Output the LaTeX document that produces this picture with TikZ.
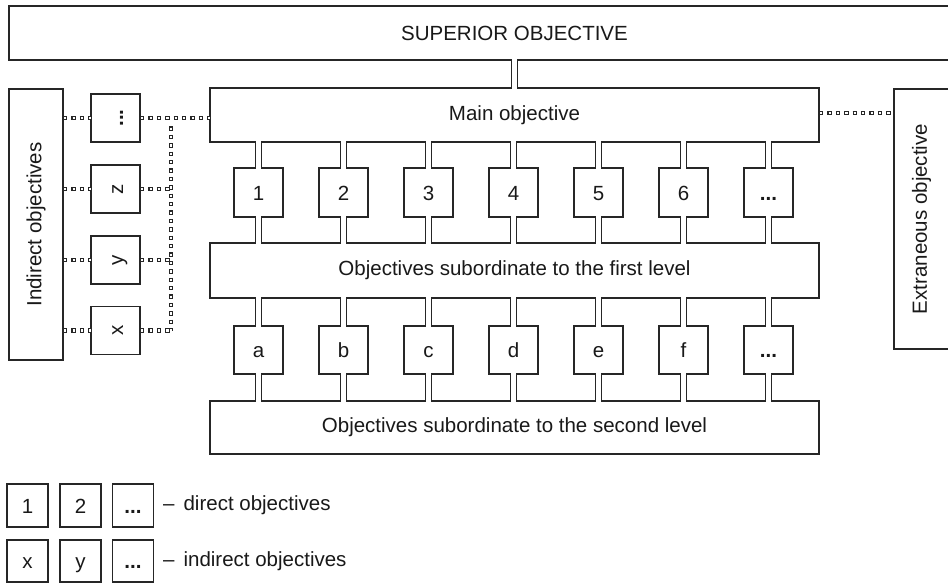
\documentclass[tikz,border=0pt]{standalone}
\usepackage{fontspec}
\setmainfont{Liberation Sans}
\usetikzlibrary{calc}
\newcommand\dd{\textbf{...}}
\tikzset{
  box/.style={draw=black!85, line width=1.1pt},
  nb/.style={box, inner sep=0pt, outer sep=0pt, fill=white},
  lbl/.style={text height=15pt, text depth=0pt},
  sq/.style={draw=black!85, line width=4.4pt, dash pattern=on 4.4pt off 4pt,
    postaction={draw=white, line width=2.2pt, dash pattern=on 2.2pt off 6.2pt, dash phase=7.3pt}},
}
% neck: #1 upper node, #2 lower node, #3 node giving x
\newcommand\neck[3]{%
  \fill[white] ($(#3.center |- #1.south)+(-2.2,-1.2)$) rectangle ($(#3.center |- #2.north)+(2.2,1.2)$);
  \draw[box] ($(#3.center |- #1.south)+(-2.75,0)$) -- ($(#3.center |- #2.north)+(-2.75,0)$);
  \draw[box] ($(#3.center |- #1.south)+(2.75,0)$) -- ($(#3.center |- #2.north)+(2.75,0)$);
}
\begin{document}
\begin{tikzpicture}[x=1pt,y=-1pt, every node/.style={font=\fontsize{20.5}{24}\selectfont, text=black!90}]
\useasboundingbox (0,0) rectangle (948,582);
\clip (0,0) rectangle (948,582);
\fill[white] (0,0) rectangle (948,582);

\coordinate (bus) at (171,0);

% boxes
\node[nb, minimum width=1011, minimum height=54] (sup) at (514.5,33) {SUPERIOR OBJECTIVE};
\node[nb, minimum width=609, minimum height=54] (main) at (514.5,115) {Main objective};
\node[nb, minimum width=609, minimum height=55] (first) at (514.5,270.5) {Objectives subordinate to the first level};
\node[nb, minimum width=609, minimum height=53] (second) at (514.5,427.5) {Objectives subordinate to the second level};

\foreach \t [count=\i] in {1,2,3,4,5,6,\dd}
  \node[nb, lbl, minimum width=49, minimum height=49] (n\i) at ({258.5+85*(\i-1)},192.5) {\t};
\foreach \t [count=\i] in {a,b,c,d,e,f,\dd}
  \node[nb, lbl, minimum width=49, minimum height=48] (l\i) at ({258.5+85*(\i-1)},350) {\t};

\neck{sup}{main}{main}
\foreach \i in {1,...,7} {
  \neck{main}{n\i}{n\i}
  \neck{n\i}{first}{n\i}
  \neck{first}{l\i}{l\i}
  \neck{l\i}{second}{l\i}
}

\node[nb, minimum width=54, minimum height=271] (ind) at (36,224.5) {};
\node[rotate=90] at (ind.center) {Indirect objectives};
\node[nb, minimum width=55, minimum height=260] (ext) at (921.5,219) {};
\node[rotate=90] at (ext.center) {Extraneous objective};

\node[nb, minimum width=49, minimum height=48] (sdots) at (115.5,118) {};
\node[nb, minimum width=49, minimum height=48] (sz) at (115.5,189) {};
\node[nb, minimum width=49, minimum height=48] (sy) at (115.5,260) {};
\node[nb, minimum width=49, minimum height=48] (sx) at (115.5,330.5) {};
\node[lbl, rotate=90] at (sdots.center) {\dd};
\node[lbl, rotate=90] at (sz.center) {z};
\node[lbl, rotate=90] at (sy.center) {y};
\node[lbl, rotate=90] at (sx.center) {x};

% dotted connectors
\draw[sq] (ind.east |- sdots.west) -- (sdots.west);
\draw[sq] (ind.east |- sz.west) -- (sz.west);
\draw[sq] (ind.east |- sy.west) -- (sy.west);
\draw[sq] (ind.east |- sx.west) -- (sx.west);
\draw[sq] (sdots.east) -- (sdots.east -| main.west);
\draw[sq] ($(sdots.east -| bus)+(0,8.4)$) -- (sx.east -| bus);
\draw[sq] (sz.east) -- (sz.east -| bus);
\draw[sq] (sy.east) -- (sy.east -| bus);
\draw[sq] (sx.east) -- (sx.east -| bus);
\draw[sq] ($(main.east)+(0,-2)$) -- ($(main.east -| ext.west)+(0,-2)$);

% legend
\node[nb, lbl, minimum width=41, minimum height=43] (k1) at (27.5,505.5) {1};
\node[nb, lbl, minimum width=41, minimum height=43] (k2) at (80.5,505.5) {2};
\node[nb, lbl, minimum width=41, minimum height=43] (k3) at (133,505.5) {\dd};
\node[anchor=west, inner sep=0pt] (kt1) at (163,505.5) {–\hspace{9pt}direct objectives};
\node[nb, lbl, minimum width=41, minimum height=42] (m1) at (27.5,561) {x};
\node[nb, lbl, minimum width=41, minimum height=42] (m2) at (80.5,561) {y};
\node[nb, lbl, minimum width=41, minimum height=42] (m3) at (133,561) {\dd};
\node[anchor=west, inner sep=0pt] (kt2) at (163,561) {–\hspace{9pt}indirect objectives};
\end{tikzpicture}
\end{document}
